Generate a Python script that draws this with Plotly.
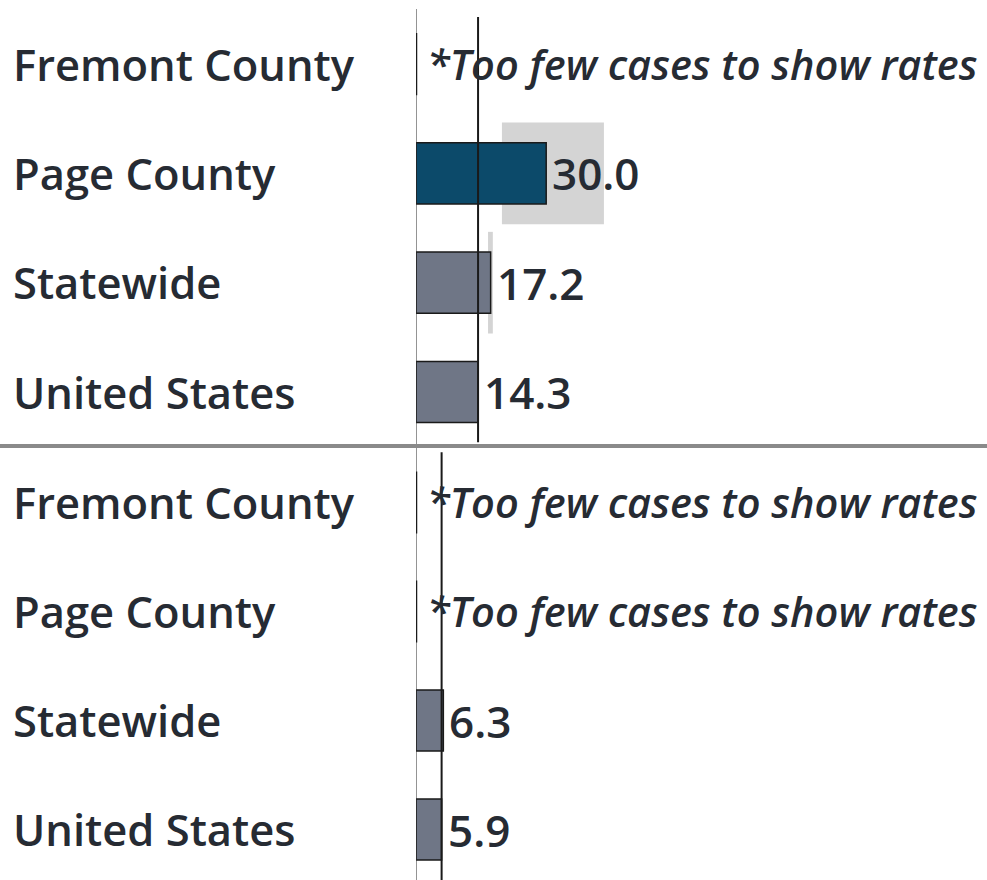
import plotly.graph_objects as go

categories = ["Fremont County", "Page County", "Statewide", "United States"]
top_values = [None, 30.0, 17.2, 14.3]
bottom_values = [None, None, 6.3, 5.9]
top_ci_low = [None, 19.8, 16.6, None]
top_ci_high = [None, 43.3, 17.7, None]
top_colors = ["#6f7686", "#0c4a6a", "#6f7686", "#6f7686"]
no_data_text = "*Too few cases to show rates"

W, H = 987, 880
L = 416
plot_w = W - L
px_per_unit = 4.34
x_max = plot_w / px_per_unit
split = (880 - 446) / 880.0

FONT = "Open Sans"
TXT = "#262b33"

fig = go.Figure()
fig.add_trace(go.Bar(y=categories, x=top_values, orientation="h", xaxis="x", yaxis="y",
                     marker=dict(color=top_colors, line=dict(color="#1a1a1a", width=1.5)),
                     width=0.56, hoverinfo="skip", showlegend=False))
fig.add_trace(go.Bar(y=categories, x=bottom_values, orientation="h", xaxis="x2", yaxis="y2",
                     marker=dict(color="#6f7686", line=dict(color="#1a1a1a", width=1.5)),
                     width=0.56, hoverinfo="skip", showlegend=False))

shapes = []
annotations = []

# CI boxes (top panel)
for i, (lo, hi) in enumerate(zip(top_ci_low, top_ci_high)):
    if lo is not None:
        shapes.append(dict(type="rect", xref="x", yref="y", x0=lo, x1=hi, y0=i - 0.465, y1=i + 0.465,
                           fillcolor="#d4d4d4", line=dict(width=0), layer="below"))

# zero line
shapes.append(dict(type="line", xref="x", yref="paper", x0=0, x1=0, y0=0, y1=(880 - 9) / 880,
                   line=dict(color="#2a2a2a", width=1)))
# reference lines (United States value)
shapes.append(dict(type="line", xref="x", yref="y", x0=top_values[3], x1=top_values[3], y0=-0.43, y1=3.46,
                   line=dict(color="#1a1a1a", width=2)))
shapes.append(dict(type="line", xref="x2", yref="y2", x0=bottom_values[3], x1=bottom_values[3], y0=-0.46, y1=3.47,
                   line=dict(color="#1a1a1a", width=2)))
# separator
shapes.append(dict(type="line", xref="paper", yref="paper", x0=-L / plot_w, x1=1, y0=split, y1=split,
                   line=dict(color="#8a8a8a", width=4)))

for vals, xr, yr in [(top_values, "x", "y"), (bottom_values, "x2", "y2")]:
    for i, (c, v) in enumerate(zip(categories, vals)):
        annotations.append(dict(xref="paper", yref=yr, x=-(L - 14) / plot_w, y=c, text=c,
                                xanchor="left", yanchor="middle", xshift=-3, showarrow=False,
                                font=dict(family=FONT, size=43.5, color=TXT, weight=600)))
        if v is None:
            shapes.append(dict(type="line", xref=xr, yref=yr, x0=0, x1=0, y0=i - 0.285, y1=i + 0.285,
                               line=dict(color="#1a1a1a", width=2.5)))
            annotations.append(dict(xref=xr, yref=yr, x=0, y=c, text=no_data_text,
                                    xanchor="left", yanchor="middle", xshift=9, showarrow=False,
                                    font=dict(family=FONT, size=41.5, color=TXT, weight=600, style="italic")))
        else:
            annotations.append(dict(xref=xr, yref=yr, x=v, y=c, text=f"{v:.1f}",
                                    xanchor="left", yanchor="middle", xshift=4, showarrow=False,
                                    font=dict(family=FONT, size=44, color=TXT, weight=600)))

axis_common = dict(showgrid=False, zeroline=False, showticklabels=False, ticks="", showline=False, fixedrange=True)
fig.update_layout(
    width=W, height=H,
    margin=dict(l=L, r=0, t=0, b=0, pad=0),
    paper_bgcolor="white", plot_bgcolor="white",
    xaxis=dict(domain=[0, 1], range=[0, x_max], anchor="y", **axis_common),
    xaxis2=dict(domain=[0, 1], range=[0, x_max], anchor="y2", **axis_common),
    yaxis=dict(domain=[split, 1], range=[3.494, -0.586], type="category",
               categoryorder="array", categoryarray=categories, anchor="x", **axis_common),
    yaxis2=dict(domain=[0, split], range=[3.463, -0.518], type="category",
                categoryorder="array", categoryarray=categories, anchor="x2", **axis_common),
    shapes=shapes, annotations=annotations,
    bargap=0.44, showlegend=False,
)
fig.write_html("out.html", config={"displayModeBar": False},
               post_script="document.body.style.margin='0';document.body.style.padding='0';")
